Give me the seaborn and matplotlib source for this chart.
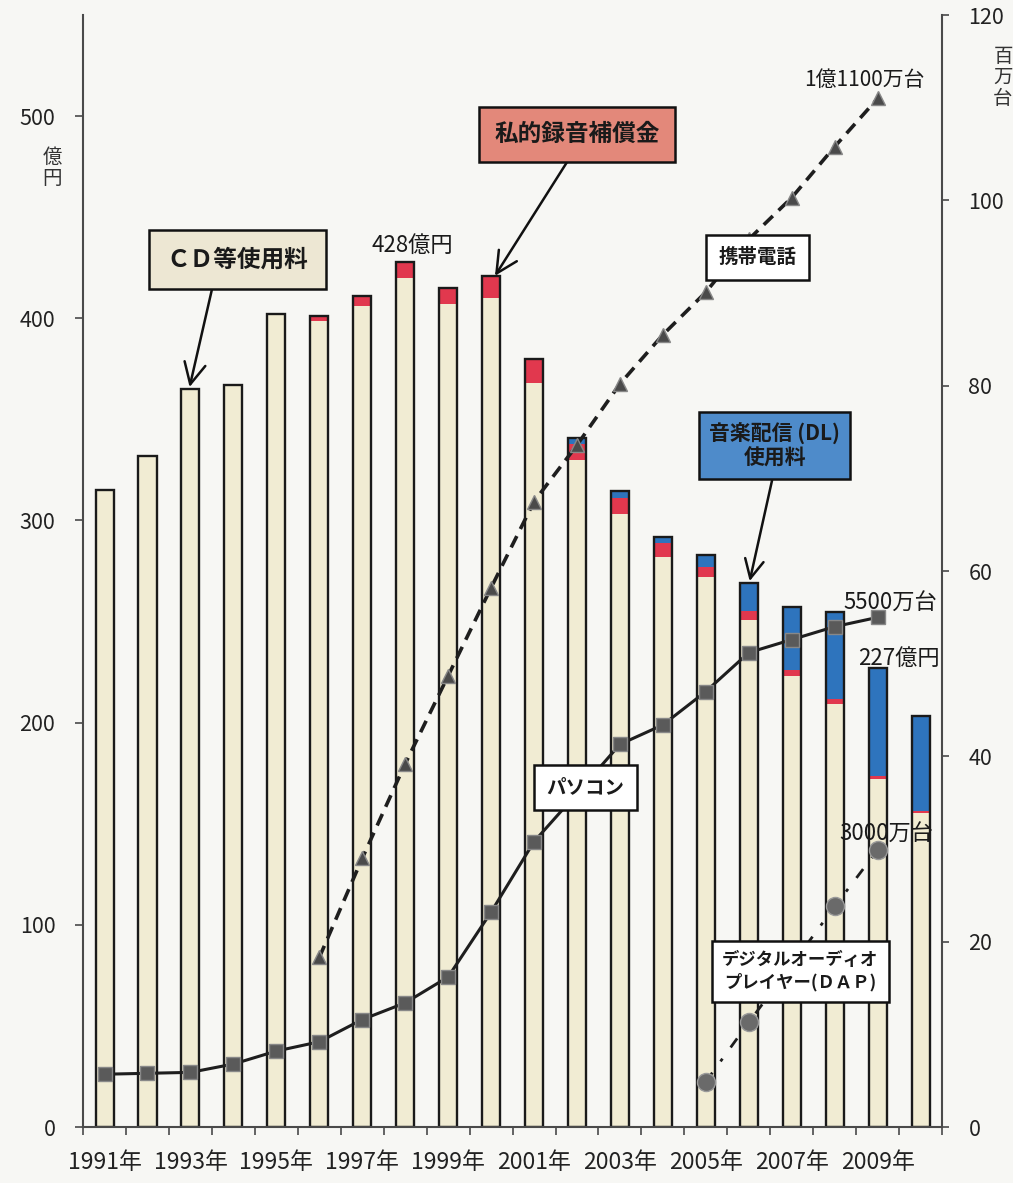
import numpy as np
import pandas as pd
import matplotlib
matplotlib.use("Agg")
import matplotlib.pyplot as plt
import seaborn as sns

# ---------------------------------------------------------
# DATA
# ---------------------------------------------------------
years = ['1991', '1992', '1993', '1994', '1995', '1996', '1997', '1998', '1999', '2000',
         '2001', '2002', '2003', '2004', '2005', '2006', '2007', '2008', '2009', '2010']

# 億円 (left axis)
cd_fee = [315, 332, 365, 367, 402, 398.5, 406, 420, 407, 410,
          368, 330, 303, 282, 272, 251, 223, 209, 172, 155.5]
private_rec = [0, 0, 0, 0, 0, 2.5, 5, 8, 8, 11,
               12, 8, 8, 7, 5, 4, 3, 2.5, 1.5, 1]
music_dl = [0, 0, 0, 0, 0, 0, 0, 0, 0, 0,
            0, 3, 3.5, 3, 6, 14, 31, 43, 53.5, 47]

# 百万台 (right axis)
pc_years = ['1991', '1992', '1993', '1994', '1995', '1996', '1997', '1998', '1999', '2000',
            '2001', '2002', '2003', '2004', '2005', '2006', '2007', '2008', '2009']
pc_units = [5.7, 5.8, 5.9, 6.8, 8.2, 9.2, 11.6, 13.4, 16.2, 23.2,
            30.8, 36.0, 41.3, 43.4, 47.0, 51.2, 52.6, 54.0, 55.0]

mobile_years = ['1996', '1997', '1998', '1999', '2000', '2001', '2002',
                '2003', '2004', '2005', '2006', '2007', '2008', '2009']
mobile_units = [18.3, 29.0, 39.2, 48.7, 58.2, 67.5, 73.6,
                80.2, 85.5, 90.1, 95.8, 100.3, 105.8, 111.0]

dap_years = ['2005', '2006', '2007', '2008', '2009']
dap_units = [4.9, 11.3, 17.5, 23.8, 29.9]

# ---------------------------------------------------------
# STYLE
# ---------------------------------------------------------
sns.set_style("ticks")
plt.rcParams['font.family'] = ['Noto Sans CJK JP', 'DejaVu Sans']

BG = '#f7f7f4'
CREAM = '#f1ecd3'
RED = '#e1384e'
BLUE = '#2e74bd'
SPINE = '#4a4a4a'

df = pd.DataFrame({'year': years, 'cd': cd_fee, 'rec': private_rec, 'dl': music_dl})
df['cd_rec'] = df['cd'] + df['rec']
df['total'] = df['cd_rec'] + df['dl']

fig = plt.figure(figsize=(10.13, 11.83), dpi=100, facecolor=BG)
ax = fig.add_axes([0.082, 0.0473, 0.848, 0.94])
ax.set_facecolor('none')

# stacked bars drawn as layered totals
bw = 0.42
sns.barplot(data=df, x='year', y='total', color=BLUE, saturation=1, width=bw,
            linewidth=0, errorbar=None, ax=ax)
sns.barplot(data=df, x='year', y='cd_rec', color=RED, saturation=1, width=bw,
            linewidth=0, errorbar=None, ax=ax)
sns.barplot(data=df, x='year', y='cd', color=CREAM, saturation=1, width=bw,
            linewidth=0, errorbar=None, ax=ax)
sns.barplot(data=df, x='year', y='total', color='#1a1a1a', fill=False, width=bw,
            linewidth=1.7, errorbar=None, ax=ax)

ax.set_xlim(-0.5, len(years) - 0.5)
ax.set_ylim(0, 550)
ax.set_yticks([0, 100, 200, 300, 400, 500])
ax.set_xlabel('')
ax.set_ylabel('')

# x ticks: labels every other year, tick marks at category boundaries
ax.set_xticks(np.arange(0, len(years), 2))
ax.set_xticklabels([y + '年' for y in years[::2]], fontsize=16.5, color='#222222')
ax.set_xticks(np.arange(-0.5, len(years), 1), minor=True)
ax.tick_params(axis='x', which='major', length=0, pad=17)
ax.tick_params(axis='x', which='minor', length=6, width=1.2, color=SPINE, direction='out')
ax.tick_params(axis='y', length=6, width=1.2, color=SPINE, pad=14, labelsize=15.5,
               labelcolor='#222222')

for s in ['top', 'right']:
    ax.spines[s].set_visible(False)
for s in ['left', 'bottom']:
    ax.spines[s].set_color(SPINE)
    ax.spines[s].set_linewidth(1.5)

# ---------------------------------------------------------
# UNIT LINES (right axis)
# ---------------------------------------------------------
ax2 = ax.twinx()
ax2.set_facecolor('none')

pc_pos = [years.index(y) for y in pc_years]
mob_pos = [years.index(y) for y in mobile_years]
dap_pos = [years.index(y) for y in dap_years]

sns.lineplot(x=pc_pos, y=pc_units, ax=ax2, color='#1e1e1e', linewidth=2.2,
             marker='s', markersize=10, markerfacecolor='#5a5a5a',
             markeredgecolor='#888888', markeredgewidth=1, zorder=4)
sns.lineplot(x=mob_pos, y=mobile_units, ax=ax2, color='#1e1e1e', linewidth=2.6,
             linestyle=(0, (3.5, 2.2)), marker='^', markersize=10,
             markerfacecolor='#4a4a4a', markeredgecolor='#888888',
             markeredgewidth=1, zorder=4)
sns.lineplot(x=dap_pos, y=dap_units, ax=ax2, color='#1e1e1e', linewidth=2.0,
             linestyle=(0, (4, 5, 1.2, 5)), marker='o', markersize=13,
             markerfacecolor='#6a6a6a', markeredgecolor='#9a9a9a',
             markeredgewidth=1, zorder=4)

ax2.set_xlim(-0.5, len(years) - 0.5)
ax2.set_ylim(0, 120)
ax2.set_yticks([0, 20, 40, 60, 80, 100, 120])
ax2.tick_params(axis='y', length=5, width=1.2, color=SPINE, pad=14, labelsize=15.5,
                labelcolor='#222222')
for s in ['top', 'left', 'bottom']:
    ax2.spines[s].set_visible(False)
ax2.spines['right'].set_color(SPINE)
ax2.spines['right'].set_linewidth(1.5)
ax2.set_ylabel('')

# unit labels
fig.text(52 / 1013, 1 - 168 / 1183, '億\n円', ha='center', va='center',
         fontsize=14, linespacing=1.05, color='#333333')
fig.text(1003 / 1013, 1 - 77 / 1183, '百\n万\n台', ha='center', va='center',
         fontsize=14, linespacing=1.0, color='#333333')

# ---------------------------------------------------------
# ANNOTATIONS
# ---------------------------------------------------------
dt = ax.transData
box = dict(edgecolor='#111111', linewidth=1.8)
arrow = dict(arrowstyle='->,head_length=0.9,head_width=0.45', color='#111111',
             lw=1.8, shrinkA=0, shrinkB=0)

ax2.annotate('ＣＤ等使用料', xy=(1.98, 366), xycoords=dt,
             xytext=(3.09, 429), textcoords=dt, ha='center', va='center',
             fontsize=17, fontweight='bold', color='#1a1a1a',
             bbox={**box, 'facecolor': '#ede7d3', 'boxstyle': 'square,pad=0.75'},
             arrowprops={**arrow, 'relpos': (0.35, 0)}, zorder=10)

ax2.annotate('私的録音補償金', xy=(9.09, 421), xycoords=dt,
             xytext=(11.0, 491), textcoords=dt, ha='center', va='center',
             fontsize=17, fontweight='bold', color='#1a1a1a',
             bbox={**box, 'facecolor': '#e3887a', 'boxstyle': 'square,pad=0.65'},
             arrowprops={**arrow, 'relpos': (0.5, 0)}, zorder=10)

ax2.annotate('音楽配信 (DL)\n使用料', xy=(15.02, 270), xycoords=dt,
             xytext=(15.6, 337), textcoords=dt, ha='center', va='center',
             fontsize=15, fontweight='bold', color='#1a1a1a', linespacing=1.2,
             bbox={**box, 'facecolor': '#4e8bca', 'boxstyle': 'square,pad=0.5'},
             arrowprops={**arrow, 'relpos': (0.5, 0)}, zorder=10)

ax2.text(15.2, 430, '携帯電話', transform=dt, ha='center', va='center',
         fontsize=14, fontweight='bold', color='#1a1a1a',
         bbox={**box, 'facecolor': 'white', 'boxstyle': 'square,pad=0.65'}, zorder=10)
ax2.text(11.2, 168, 'パソコン', transform=dt, ha='center', va='center',
         fontsize=14, fontweight='bold', color='#1a1a1a',
         bbox={**box, 'facecolor': 'white', 'boxstyle': 'square,pad=0.65'}, zorder=10)
ax2.text(16.2, 77, 'デジタルオーディオ\nプレイヤー(ＤＡＰ)', transform=dt,
         ha='center', va='center', fontsize=12.5, fontweight='bold', color='#1a1a1a',
         linespacing=1.3,
         bbox={**box, 'facecolor': 'white', 'boxstyle': 'square,pad=0.6'}, zorder=10)

ax2.text(7.16, 436, '428億円', transform=dt, ha='center', va='center',
         fontsize=16, color='#1a1a1a', zorder=10)
ax2.text(17.7, 518, '1億1100万台', transform=dt, ha='center', va='center',
         fontsize=15, color='#1a1a1a', zorder=10)
ax2.text(18.3, 259, '5500万台', transform=dt, ha='center', va='center',
         fontsize=16, color='#1a1a1a', zorder=10)
ax2.text(18.5, 232, '227億円', transform=dt, ha='center', va='center',
         fontsize=16, color='#1a1a1a', zorder=10)
ax2.text(18.2, 145, '3000万台', transform=dt, ha='center', va='center',
         fontsize=16, color='#1a1a1a', zorder=10)

plt.savefig('out.png', dpi=100, facecolor=BG)
plt.close()
